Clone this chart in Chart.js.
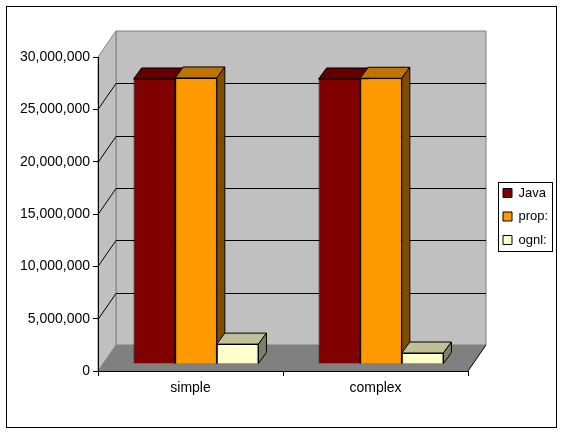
<!DOCTYPE html>
<html>
<head>
<meta charset="utf-8">
<style>
  html, body { margin: 0; padding: 0; background: #fff; }
  canvas { display: block; }
</style>
<script src="https://cdn.jsdelivr.net/npm/chart.js@4"></script>
</head>
<body>
<canvas id="grafico" width="562" height="433"></canvas>
<script>
const categorias = ['simple', 'complex'];
const serieJava = [27230000, 27230000];
const serieProp = [27330000, 27300000];
const serieOgnl = [1900000, 1050000];
const nomesSeries = ['Java', 'prop:', 'ognl:'];
const coresFrente = ['#800000', '#FF9900', '#FFFFCC'];
const coresTopo = ['#600000', '#BF7300', '#BFBF99'];
const coresLado = ['#400000', '#804D00', '#808066'];

const FONTE = 'Liberation Sans';
// deslocamento da parede do fundo e das barras (falso 3D)
const FUNDO_X = 18, FUNDO_Y = -26;
const BARRA_X = 5.5, BARRA_Y = -7;
const PROF_X = 8, PROF_Y = -11;

function poligono(ctx, pontos, preenchimento, traco) {
  ctx.beginPath();
  pontos.forEach((p, i) => (i ? ctx.lineTo(p[0], p[1]) : ctx.moveTo(p[0], p[1])));
  ctx.closePath();
  if (preenchimento) { ctx.fillStyle = preenchimento; ctx.fill(); }
  if (traco) { ctx.strokeStyle = traco; ctx.lineWidth = 1; ctx.stroke(); }
}

function linha(ctx, x1, y1, x2, y2, cor) {
  ctx.beginPath();
  ctx.moveTo(x1, y1);
  ctx.lineTo(x2, y2);
  ctx.strokeStyle = cor;
  ctx.lineWidth = 1;
  ctx.stroke();
}

function desenharParedes(chart) {
  const { ctx, chartArea: { left, right, top, bottom }, scales: { y } } = chart;
  // parede do fundo, parede esquerda e chão
  poligono(ctx, [[left + FUNDO_X, top + FUNDO_Y], [right + FUNDO_X, top + FUNDO_Y], [right + FUNDO_X, bottom + FUNDO_Y], [left + FUNDO_X, bottom + FUNDO_Y]], '#C0C0C0', '#808080');
  poligono(ctx, [[left, top], [left + FUNDO_X, top + FUNDO_Y], [left + FUNDO_X, bottom + FUNDO_Y], [left, bottom]], '#C0C0C0', '#808080');
  poligono(ctx, [[left, bottom], [left + FUNDO_X, bottom + FUNDO_Y], [right + FUNDO_X, bottom + FUNDO_Y], [right, bottom]], '#808080', null);
  linha(ctx, right, bottom, right + FUNDO_X, bottom + FUNDO_Y, '#000');

  y.ticks.forEach(t => {
    if (t.value <= 0 || t.value >= y.max) return;
    const py = Math.round(y.getPixelForValue(t.value)) + 0.5;
    linha(ctx, left, py, left + FUNDO_X, py + FUNDO_Y, '#000');
    linha(ctx, left + FUNDO_X, Math.round(py + FUNDO_Y) - 0.5, right + FUNDO_X, Math.round(py + FUNDO_Y) - 0.5, '#000');
  });
}

function desenharFaces(chart) {
  const { ctx } = chart;
  categorias.forEach((_, c) => {
    chart.data.datasets.forEach((ds, i) => {
      const b = chart.getDatasetMeta(i).data[c];
      const esq = b.x - b.width / 2, dir = b.x + b.width / 2;
      poligono(ctx, [[esq, b.y], [esq + PROF_X, b.y + PROF_Y], [dir + PROF_X, b.y + PROF_Y], [dir, b.y]], coresTopo[i], '#000');
      poligono(ctx, [[dir, b.y], [dir + PROF_X, b.y + PROF_Y], [dir + PROF_X, b.base + PROF_Y], [dir, b.base]], coresLado[i], '#000');
    });
  });
}

const pluginFundo = {
  id: 'fundo3d',
  beforeDraw(chart) {
    const { ctx, width, height } = chart;
    ctx.save();
    ctx.fillStyle = '#fff';
    ctx.fillRect(0, 0, width, height);
    ctx.strokeStyle = '#000';
    ctx.lineWidth = 1;
    ctx.strokeRect(6.5, 6.5, 550, 421);
    desenharParedes(chart);
    ctx.restore();
  },
  beforeDatasetsDraw(chart) {
    const { ctx } = chart;
    ctx.save();
    ctx.translate(BARRA_X, BARRA_Y);
    desenharFaces(chart);
  },
  afterDatasetsDraw(chart) {
    chart.ctx.restore();
  },
  afterDraw(chart) {
    const { ctx } = chart;
    ctx.save();
    ctx.strokeStyle = '#000';
    ctx.lineWidth = 1;
    ctx.strokeRect(498.5, 182.5, 54, 69);
    ctx.restore();
  }
};

new Chart(document.getElementById('grafico'), {
  type: 'bar',
  data: {
    labels: categorias,
    datasets: [serieJava, serieProp, serieOgnl].map((data, i) => ({
      label: nomesSeries[i],
      data,
      backgroundColor: coresFrente[i],
      borderColor: '#000',
      borderWidth: 1,
      categoryPercentage: 0.675,
      barPercentage: 1,
      clip: false,
    }))
  },
  options: {
    responsive: false,
    animation: false,
    layout: { padding: { left: 0, right: 10, top: 0, bottom: 0 } },
    plugins: {
      tooltip: { enabled: false },
      legend: {
        position: 'right',
        maxWidth: 59.5,
        labels: {
          boxWidth: 9,
          boxHeight: 9,
          padding: 10.5,
          color: '#000',
          font: { family: FONTE, size: 13 },
        }
      }
    },
    scales: {
      x: {
        grid: { drawOnChartArea: false, color: '#000', tickLength: 5 },
        border: { color: '#000' },
        ticks: { color: '#000', font: { family: FONTE, size: 14 }, padding: 4, maxRotation: 0 },
        afterFit(s) { s.height = 62; },
      },
      y: {
        min: 0,
        max: 30000000,
        grid: { drawOnChartArea: false, color: '#000', tickLength: 5 },
        border: { color: '#000' },
        ticks: {
          color: '#000',
          stepSize: 5000000,
          font: { family: FONTE, size: 14 },
          padding: 3,
          callback: v => v.toLocaleString('en-US'),
        },
        afterFit(s) { s.width = 98; },
      },
      // eixos vazios só para reservar espaço em cima e antes da legenda
      margemTopo: {
        type: 'linear',
        position: 'top',
        grid: { display: false },
        border: { display: false },
        ticks: { display: false },
        afterFit(s) { s.height = 57; },
      },
      margemDireita: {
        type: 'linear',
        position: 'right',
        grid: { display: false },
        border: { display: false },
        ticks: { display: false },
        afterFit(s) { s.width = 24.5; },
      },
    }
  },
  plugins: [pluginFundo]
});
</script>
</body>
</html>
